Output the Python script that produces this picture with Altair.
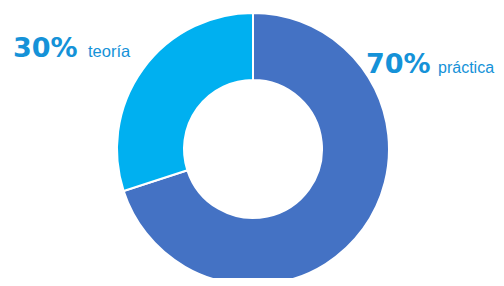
import altair as alt
import pandas as pd

categories = ["práctica", "teoría"]
values = [70, 30]
colors = ["#4472C4", "#00B0F0"]

df = pd.DataFrame({"categoria": categories, "valor": values, "orden": [0, 1]})
df["pct"] = df["valor"].astype(str) + "%"

CX, CY = 245, 141

arc = alt.Chart(df).mark_arc(
    outerRadius=136, innerRadius=69, stroke="white", strokeWidth=2
).encode(
    theta=alt.Theta("valor:Q", stack=True),
    order=alt.Order("orden:Q"),
    color=alt.Color("categoria:N", scale=alt.Scale(domain=categories, range=colors), legend=None),
    x=alt.value(CX),
    y=alt.value(CY),
)

TXT = "#1592d8"

def label(cat, px, nx, base, fs):
    d = alt.Chart(df).transform_filter(alt.datum.categoria == cat)
    big = d.mark_text(
        align="left", baseline="alphabetic", font="DejaVu Sans", fontWeight="bold",
        fontSize=27, color=TXT
    ).encode(text="pct:N", x=alt.value(px), y=alt.value(base))
    small = d.mark_text(
        align="left", baseline="alphabetic", font="Liberation Sans",
        fontSize=fs, color=TXT
    ).encode(text="categoria:N", x=alt.value(nx), y=alt.value(base))
    return big + small

chart = alt.layer(
    arc,
    label("teoría", 5, 80, 49, 16.5),
    label("práctica", 358, 430, 65, 16),
).properties(
    width=488, height=270, padding=0,
    autosize=alt.AutoSizeParams(type="none"),
).configure_view(stroke=None)

chart.save("out.html", embed_options={"renderer": "svg", "actions": False})
